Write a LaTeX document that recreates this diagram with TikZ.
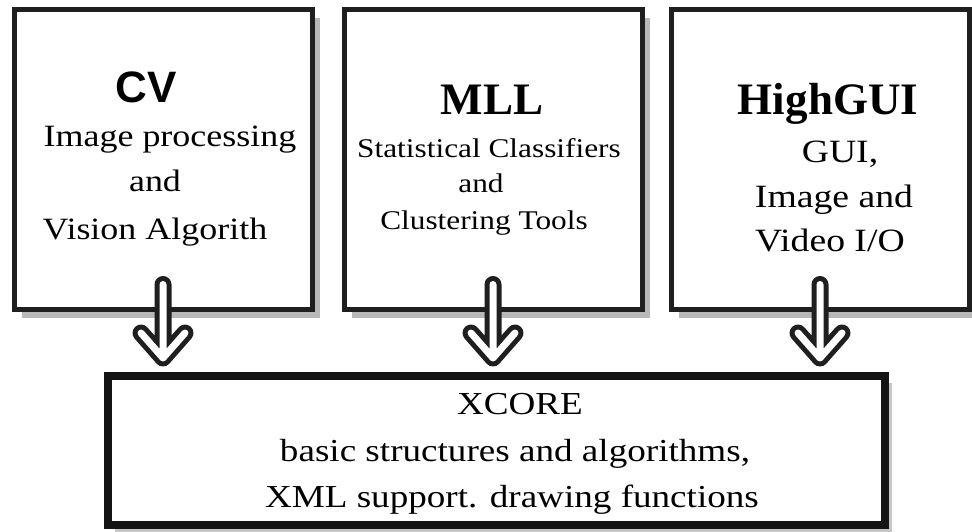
\documentclass[tikz,border=0pt]{standalone}
\usepackage{fontspec}
\setmainfont{Liberation Serif}[FakeStretch=1.16]
\newfontfamily\headserif{Liberation Serif}
\newfontfamily\headsans{Liberation Sans}
\usetikzlibrary{shadows,calc}

\tikzset{
  module/.style={draw=black!88, line width=5pt, fill=white, inner sep=0pt,
    minimum width=298pt, minimum height=300pt,
    drop shadow={shadow xshift=8pt, shadow yshift=-8pt, fill=black!28, opacity=1}},
  core/.style={draw=black!92, line width=8pt, fill=white, inner sep=0pt,
    minimum width=777pt, minimum height=149pt,
    drop shadow={shadow xshift=7pt, shadow yshift=-7pt, fill=black!22, opacity=1}},
  txt/.style={anchor=base, inner sep=0pt},
  flowouter/.style={line width=17pt, draw=black!88, line cap=round, line join=round},
  flowinner/.style={line width=7pt, draw=white, line cap=round, line join=round},
}

\begin{document}
\begin{tikzpicture}[x=1pt,y=1pt]
\useasboundingbox (0,0) rectangle (972,532);
\fill[white] (0,0) rectangle (972,532);

% library modules
\node[module] (cv)  at (163,372) {};
\node[module] (mll) at (493,372) {};
\node[module] (gui) at (820,372) {};
\node[core] (xcore) at (496.5,81.5) {};

% CV
\node[txt, font=\headsans\bfseries\fontsize{44}{50}\selectfont] (cvT) at (146,429) {CV};
\node[txt, font=\fontsize{31}{37}\selectfont] (cv1) at (170,385) {Image processing};
\node[txt, font=\fontsize{31}{37}\selectfont] (cv2) at (155,340) {and};
\node[txt, font=\fontsize{31}{37}\selectfont] (cv3) at (155,292) {Vision Algorith};

% MLL
\node[txt, font=\headserif\bfseries\fontsize{45}{50}\selectfont] (mllT) at (492,417) {MLL};
\node[txt, font=\fontsize{27}{32}\selectfont] (mll1) at (489,374) {Statistical Classifiers};
\node[txt, font=\fontsize{27}{32}\selectfont] (mll2) at (481,339) {and};
\node[txt, font=\fontsize{27}{32}\selectfont] (mll3) at (484,302) {Clustering Tools};

% HighGUI
\node[txt, font=\headserif\bfseries\fontsize{45}{50}\selectfont] (guiT) at (828,417) {HighGUI};
\node[txt, font=\fontsize{32.5}{38}\selectfont] (gui1) at (840,369) {GUI,};
\node[txt, font=\fontsize{32.5}{38}\selectfont] (gui2) at (834,324) {Image and};
\node[txt, font=\fontsize{32.5}{38}\selectfont] (gui3) at (830,280) {Video I/O};

% XCORE
\node[txt, font=\fontsize{32}{38}\selectfont] (xc0) at (520,117) {XCORE};
\node[txt, font=\fontsize{32}{38}\selectfont] (xc1) at (515,70) {basic structures and algorithms,};
\node[txt, font=\fontsize{32}{38}\selectfont] (xc2) at (512,24) {XML support. drawing functions};

% hollow arrows from each module down to the core
\foreach \b in {cv,mll,gui}{
  \coordinate (\b-top) at ($(\b.south)+(0,28)$);
  \coordinate (\b-tip) at ($(\b.south |- xcore.north)+(0,14)$);
  \coordinate (\b-l) at ($(\b-tip)+(-22,25)$);
  \coordinate (\b-r) at ($(\b-tip)+(22,25)$);
  \draw[flowouter] (\b-top) -- (\b-tip) (\b-l) -- (\b-tip) -- (\b-r);
  \draw[flowinner] (\b-top) -- (\b-tip) (\b-l) -- (\b-tip) -- (\b-r);
}
\end{tikzpicture}
\end{document}
